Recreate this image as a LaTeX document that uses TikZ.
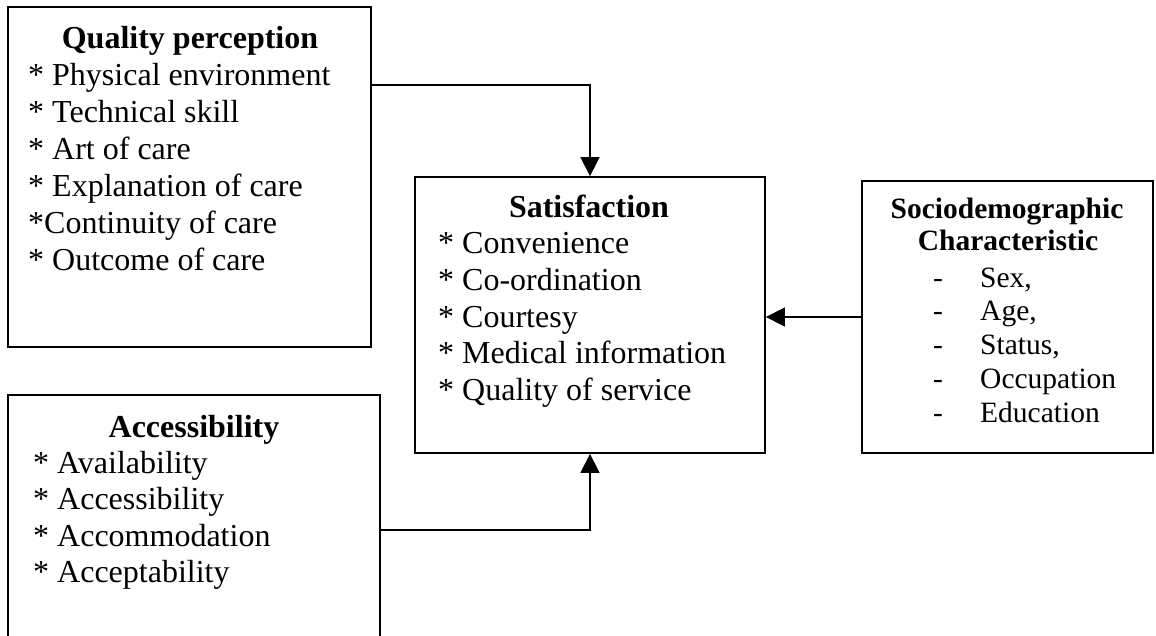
\documentclass[tikz,border=0pt]{standalone}
\usepackage{fontspec}
\setmainfont{Liberation Serif}
\usetikzlibrary{arrows.meta}
\begin{document}
\begin{tikzpicture}[x=1pt,y=-1pt,
  box/.style={draw, line width=1.8pt, rectangle, inner sep=0pt},
  txt/.style={inner sep=0pt, anchor=base west, font=\fontsize{32}{37}\selectfont},
  ttl/.style={inner sep=0pt, anchor=base, font=\fontsize{32}{37}\selectfont\bfseries},
  stxt/.style={inner sep=0pt, anchor=base west, font=\fontsize{29.5}{34}\selectfont},
  sttl/.style={inner sep=0pt, anchor=base, font=\fontsize{29.5}{34}\selectfont\bfseries},
  arr/.style={line width=1.5pt, -{Triangle[length=19pt,width=19pt]}}]
\clip (0,0) rectangle (1156,635);
\fill[white] (0,0) rectangle (1156,635);
% boxes
\node[box, minimum width=363pt, minimum height=340pt] (qp) at (189.5,177) {};
\node[box, minimum width=372pt, minimum height=305pt] (acc) at (194,547.5) {};
\node[box, minimum width=350pt, minimum height=276pt] (sat) at (590,315) {};
\node[box, minimum width=291pt, minimum height=272pt] (soc) at (1007.5,317) {};
% Quality perception
\node[ttl] (qpt) at (190,48) {Quality perception};
\node[txt] (qp1) at (28,85) {* Physical environment};
\node[txt] (qp2) at (28,122) {* Technical skill};
\node[txt] (qp3) at (28,159) {* Art of care};
\node[txt] (qp4) at (28,196) {* Explanation of care};
\node[txt] (qp5) at (28,233) {*Continuity of care};
\node[txt] (qp6) at (28,270) {* Outcome of care};
% Accessibility
\node[ttl] (acct) at (194,437) {Accessibility};
\node[txt] (acc1) at (33,473) {* Availability};
\node[txt] (acc2) at (33,509) {* Accessibility};
\node[txt] (acc3) at (33,546) {* Accommodation};
\node[txt] (acc4) at (33,582) {* Acceptability};
% Satisfaction
\node[ttl] (satt) at (589,217) {Satisfaction};
\node[txt] (sat1) at (438,253) {* Convenience};
\node[txt] (sat2) at (438,290) {* Co-ordination};
\node[txt] (sat3) at (438,327) {* Courtesy};
\node[txt] (sat4) at (438,363) {* Medical information};
\node[txt] (sat5) at (438,400) {* Quality of service};
% Sociodemographic
\node[sttl] (soct1) at (1007,218) {Sociodemographic};
\node[sttl] (soct2) at (1008,250) {Characteristic};
\foreach \y/\t [count=\i] in {287/{Sex,},320/{Age,},354/{Status,},388/Occupation,422/Education}{
  \node[stxt] (socd\i) at (933,\y) {-};
  \node[stxt] (soc\i) at (980,\y) {\t};
}
% connectors
\draw[arr] (qp.east |- 0,85) -| (sat.north);
\draw[arr] (acc.east |- 0,530) -| (sat.south);
\draw[arr] (soc.west) -- (sat.east |- soc.west);
\end{tikzpicture}
\end{document}
